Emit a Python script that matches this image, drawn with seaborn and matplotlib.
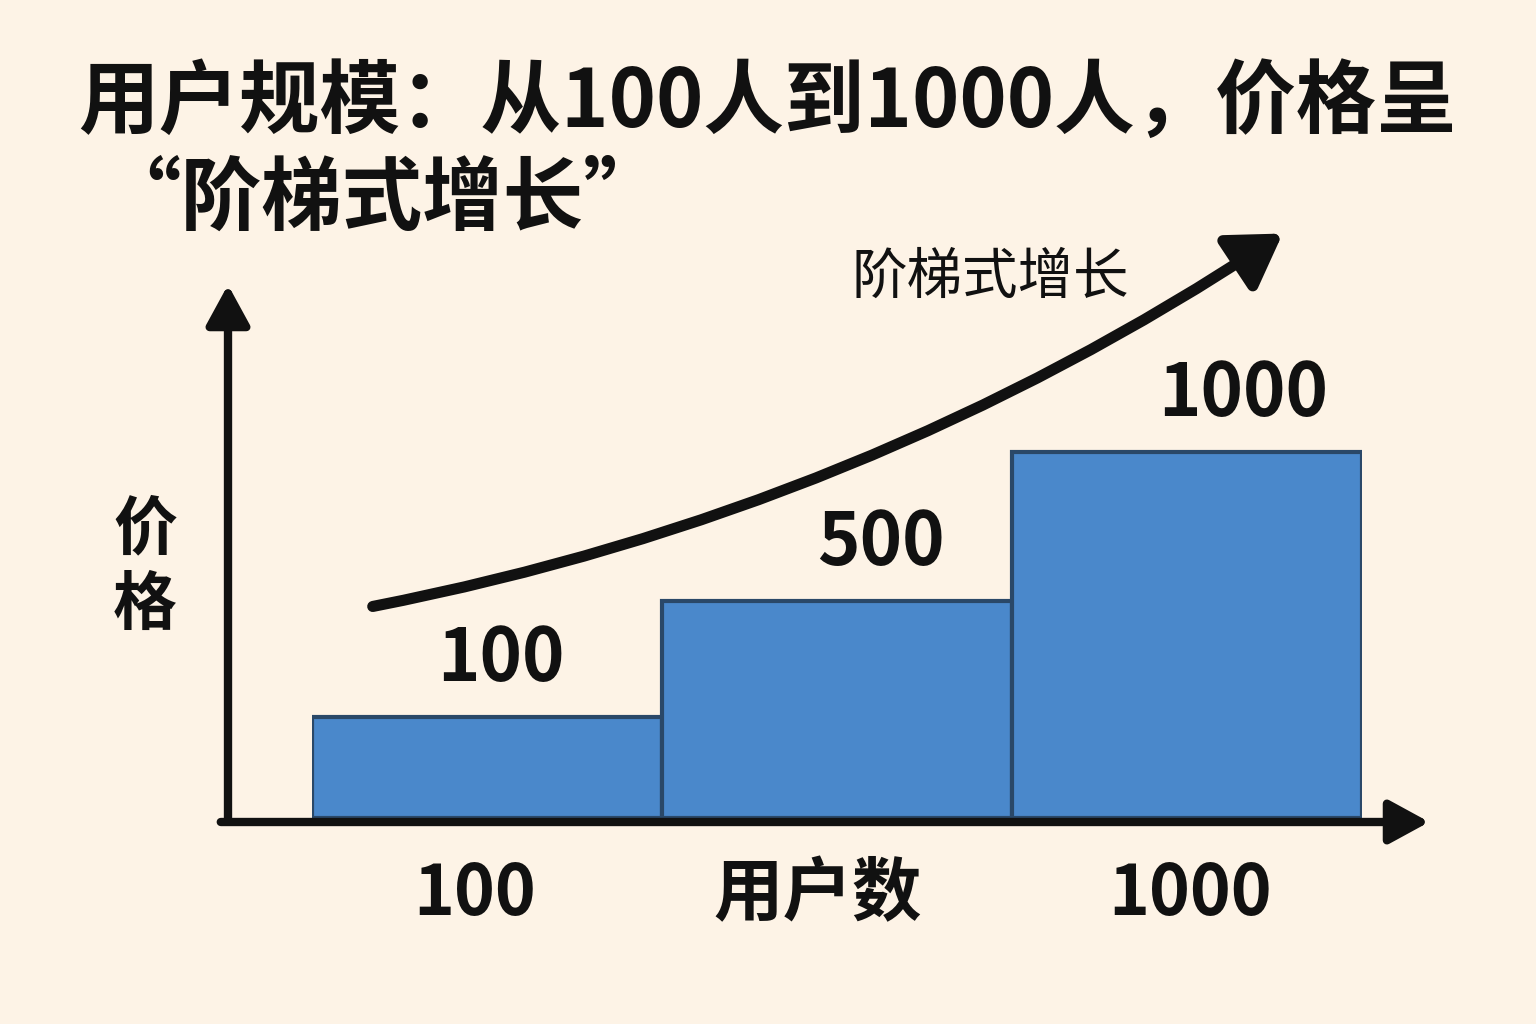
import matplotlib
matplotlib.use("Agg")
import matplotlib.pyplot as plt
import seaborn as sns
import pandas as pd
from matplotlib.patches import FancyArrowPatch

sns.set_theme(style="white")
plt.rcParams['font.family'] = ['Noto Sans CJK SC', 'DejaVu Sans']

# data
tiers = ["100", "500", "1000"]          # user-count tiers
bar_heights = [101, 217, 366]           # relative price level (as drawn)
value_labels = ["100", "500", "1000"]
x_labels = ["100", "用户数", "1000"]
title_l1 = "用户规模：从100人到1000人，价格呈"
title_l2 = "“阶梯式增长”"

BG = "#FDF3E6"
W, H = 1536, 1024
fig = plt.figure(figsize=(W / 100, H / 100), dpi=100, facecolor=BG)

def fx(px):
    return px / W

def fy(py):
    return 1 - py / H

# bar axes: baseline at y=818px, spanning x 312..1362px
ax = fig.add_axes([fx(312), fy(818), fx(1362 - 312), 400 / H])
df = pd.DataFrame({"tier": tiers, "price": bar_heights})
sns.barplot(data=df, x="tier", y="price", color="#4A88CB", saturation=1,
            width=1.0, edgecolor="#2A4868", linewidth=3, ax=ax)
ax.set_xlim(-0.5, 2.5)
ax.set_ylim(0, 400)
ax.axis("off")
ax.patch.set_alpha(0)
for i, (h, lab, off) in enumerate(zip(bar_heights, value_labels, [0.04, 0.125, 0.16])):
    ax.text(i + off, h + 20, lab, ha="center", va="bottom", fontsize=52,
            fontweight="bold", color="#111")

# axis arrows
style = "-|>,head_length=1.1,head_width=0.6"
fig.patches.append(FancyArrowPatch((fx(228), fy(824)), (fx(228), fy(282)),
                                   transform=fig.transFigure, arrowstyle=style,
                                   mutation_scale=22, lw=6, color="#111"))
fig.patches.append(FancyArrowPatch((fx(218), fy(822)), (fx(1432), fy(822)),
                                   transform=fig.transFigure, arrowstyle=style,
                                   mutation_scale=22, lw=6, color="#111"))
# growth curve
fig.patches.append(FancyArrowPatch((fx(370), fy(607)), (fx(1285), fy(232)),
                                   transform=fig.transFigure, connectionstyle="arc3,rad=0.1",
                                   arrowstyle="-|>,head_length=1.2,head_width=0.75",
                                   mutation_scale=26, lw=8, color="#111", capstyle="round"))

fig.text(fx(78), fy(103), title_l1, ha="left", va="center", fontsize=58,
         fontweight="bold", color="#111")
fig.text(fx(100), fy(200), title_l2, ha="left", va="center", fontsize=58,
         fontweight="bold", color="#111")
fig.text(fx(990), fy(278), "阶梯式增长", ha="center", va="center",
         fontsize=40, fontweight="medium", color="#111")
fig.text(fx(145), fy(530), "价", ha="center", va="center", fontsize=46, fontweight="bold", color="#111")
fig.text(fx(145), fy(605), "格", ha="center", va="center", fontsize=46, fontweight="bold", color="#111")
for xp, lab in zip([475, 818, 1190], x_labels):
    fig.text(fx(xp), fy(895), lab, ha="center", va="center", fontsize=50,
             fontweight="bold", color="#111")

fig.savefig("out.png", dpi=100, facecolor=BG)
